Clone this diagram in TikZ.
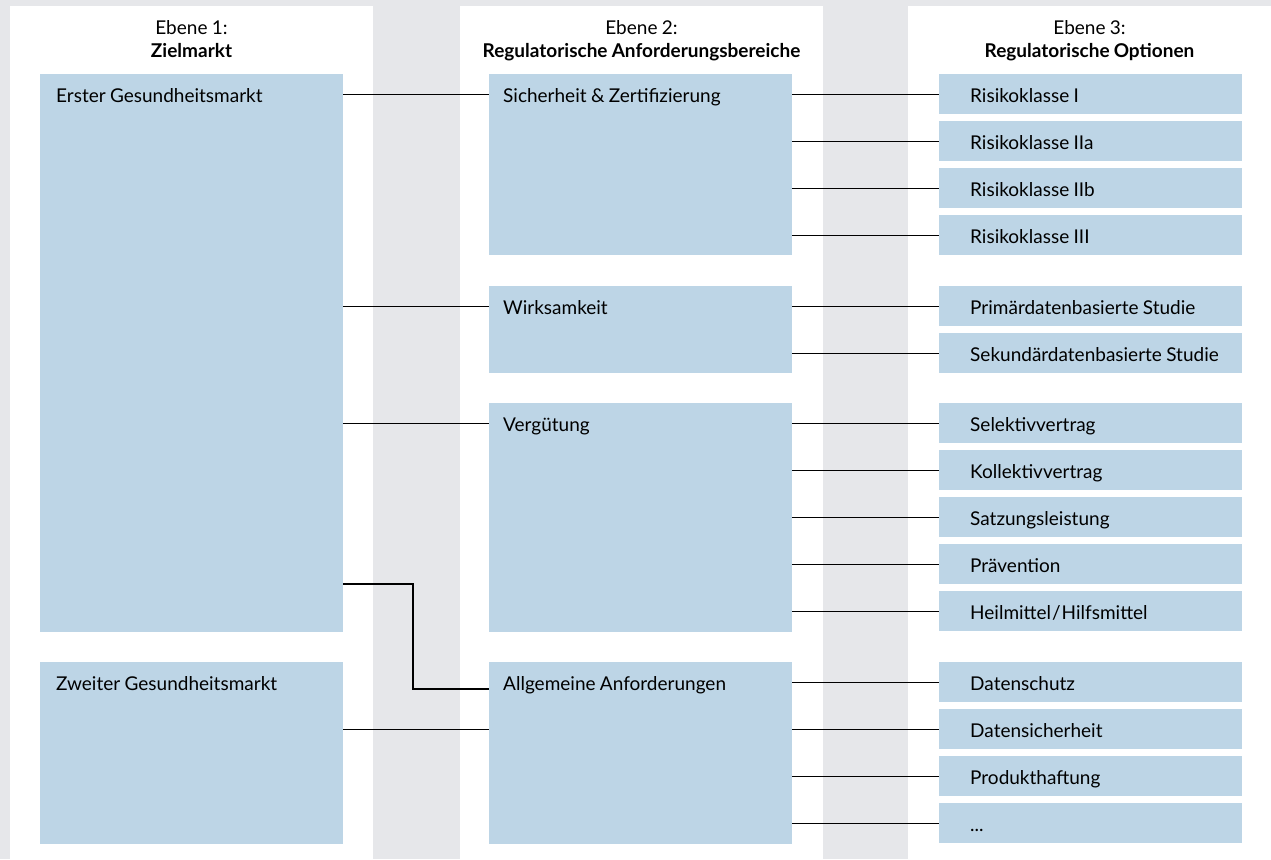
\documentclass[tikz,border=0pt]{standalone}
\usepackage{fontspec}
\setmainfont{Lato}[WordSpace=0.9]
\definecolor{bgc}{HTML}{E6E7EA}
\definecolor{boxc}{HTML}{BDD5E6}
\begin{document}
\begin{tikzpicture}[x=1pt,y=-1pt,
  font=\fontsize{19}{23}\selectfont,
  panel/.style={fill=white,draw=none},
  bx/.style={fill=boxc,draw=none,anchor=north west,inner ysep=0pt,inner xsep=16pt,
    text width=271pt,align=left,text height=28pt,
    execute at begin node={\spaceskip=0pt\xspaceskip=0pt}},
  midbx/.style={bx,inner xsep=14pt,text width=275pt},
  opt/.style={bx,text depth=12pt,
    execute at begin node={\spaceskip=0pt\xspaceskip=0pt\hspace*{15pt}}},
  conn/.style={draw=black,line width=1.2pt},
  hd/.style={anchor=base,inner sep=0pt}]
\fill[bgc] (0,0) rectangle (1271,859);
\useasboundingbox (0,0) rectangle (1271,859);
\fill[panel] (10,6) rectangle (373,859);
\fill[panel] (460,6) rectangle (823,859);
\fill[panel] (908,6) rectangle (1271,859);
% headers
\node[hd] (h1a) at (191.5,35) {Ebene 1:};
\node[hd] (h1b) at (191.5,58) {\bfseries Zielmarkt};
\node[hd] (h2a) at (641.5,35) {Ebene 2:};
\node[hd] (h2b) at (641.5,58) {\bfseries Regulatorische Anforderungsbereiche};
\node[hd] (h3a) at (1089.5,35) {Ebene 3:};
\node[hd] (h3b) at (1089.5,58) {\bfseries Regulatorische Optionen};
% level 1
\node[bx,text depth=530pt] (erster) at (40,74) {Erster Gesundheitsmarkt};
\node[bx,text depth=154pt] (zweiter) at (40,662) {Zweiter Gesundheitsmarkt};
% level 2
\node[midbx,text depth=153pt] (sich) at (489,74) {Sicherheit \& Zertifizierung};
\node[midbx,text depth=59pt] (wirk) at (489,286) {Wirksamkeit};
\node[midbx,text depth=201pt] (verg) at (489,403) {Vergütung};
\node[midbx,text depth=154pt] (allg) at (489,662) {Allgemeine Anforderungen};
% level 3
\node[opt] (r1) at (939,74) {Risikoklasse I};
\node[opt] (r2) at (939,121) {Risikoklasse IIa};
\node[opt] (r3) at (939,168) {Risikoklasse IIb};
\node[opt] (r4) at (939,215) {Risikoklasse III};
\node[opt] (p1) at (939,286) {Primärdatenbasierte Studie};
\node[opt] (p2) at (939,333) {Sekundärdatenbasierte Studie};
\node[opt] (v1) at (939,403) {Selektivvertrag};
\node[opt] (v2) at (939,450) {Kollektivvertrag};
\node[opt] (v3) at (939,497) {Satzungsleistung};
\node[opt] (v4) at (939,544) {Prävention};
\node[opt] (v5) at (939,591) {Heilmittel\kern1pt/\kern1ptHilfsmittel};
\node[opt] (a1) at (939,662) {Datenschutz};
\node[opt] (a2) at (939,709) {Datensicherheit};
\node[opt] (a3) at (939,756) {Produkthaftung};
\node[opt] (a4) at (939,803) {...};
% level 1 -> level 2
\draw[conn] (erster.east |- r1.west) -- (sich.west |- r1.west);
\draw[conn] (erster.east |- p1.west) -- (wirk.west |- p1.west);
\draw[conn] (erster.east |- v1.west) -- (verg.west |- v1.west);
\coordinate (k1) at (413,584);
\coordinate (k2) at (413,689);
\draw[conn] (erster.east |- k1) -- (k1) -- (k2) -- (allg.west |- k2);
\draw[conn] (zweiter.east |- a2.west) -- (allg.west |- a2.west);
% level 2 -> level 3
\foreach \s/\o in {sich/r1,sich/r2,sich/r3,sich/r4,wirk/p1,wirk/p2,verg/v1,verg/v2,verg/v3,verg/v4,verg/v5,allg/a1,allg/a2,allg/a3,allg/a4}
  \draw[conn] (\s.east |- \o.west) -- (\o.west);
\end{tikzpicture}
\end{document}
